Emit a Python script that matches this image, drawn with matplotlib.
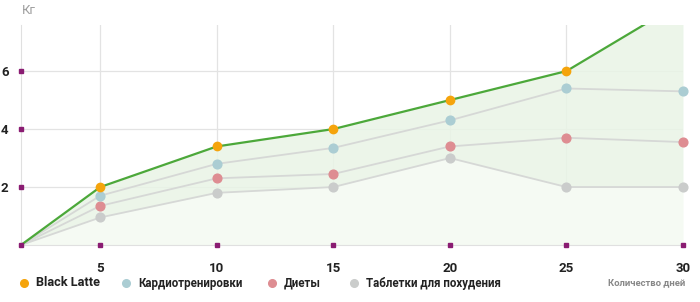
import matplotlib.pyplot as plt

plt.rcParams['font.family'] = ['Roboto', 'DejaVu Sans']

# data
days = [1.6, 5, 10, 15, 20, 25, 30]
xticks = [5, 10, 15, 20, 25, 30]
yticks = [2, 4, 6]
black_latte = [0, 2.0, 3.4, 4.0, 5.0, 6.0, 8.4]
cardio = [0, 1.7, 2.8, 3.35, 4.3, 5.4, 5.3]
diets = [0, 1.35, 2.3, 2.45, 3.4, 3.7, 3.55]
pills = [0, 0.95, 1.8, 2.0, 3.0, 2.0, 2.0]

labels = ['Black Latte', 'Кардиотренировки', 'Диеты', 'Таблетки для похудения']
colors = ['#f5a40c', '#abcdd3', '#de8d92', '#cacccb']

fig = plt.figure(figsize=(7, 3.02), dpi=100)
ax = fig.add_axes([21/700, 57/302, 662/700, 220/302])
ax.set_xlim(days[0], 30)
ax.set_ylim(0, 7.59)

# grid
for x in xticks:
    ax.axvline(x, color='#e3e3e3', lw=0.9, zorder=0)
for y in yticks:
    ax.axhline(y, color='#e3e3e3', lw=0.9, zorder=0)

# area fills
ax.fill_between(days, 0, pills, color='#f5faf3', lw=0, zorder=1)
ax.fill_between(days, pills, black_latte, color='#e9f4e6', alpha=0.85, lw=0, zorder=1)

for s, c in [(pills, colors[3]), (diets, colors[2]), (cardio, colors[1])]:
    ax.plot(days, s, color='#d6d8d6', lw=1.3, zorder=2)
    ax.plot(days[1:], s[1:], 'o', color=c, ms=6.3, zorder=3, clip_on=False)
ax.plot(days, black_latte, color='#4ca83a', lw=1.6, zorder=4)
ax.plot(days[1:6], black_latte[1:6], 'o', color=colors[0], ms=6, zorder=5)

for sp in ['top', 'right']:
    ax.spines[sp].set_visible(False)
ax.spines['left'].set_color('#e0e0e0')
ax.spines['bottom'].set_color('#e0e0e0')

ax.set_xticks(xticks)
ax.set_yticks(yticks)
ax.tick_params(length=0, labelsize=9.5, colors='#222222')
ax.tick_params(axis='x', pad=12)
ax.tick_params(axis='y', pad=9)
for t in ax.get_xticklabels() + ax.get_yticklabels():
    t.set_fontweight('bold')

# purple tick squares
ax.plot(xticks, [0]*len(xticks), 's', color='#8a1c72', ms=2.6, clip_on=False, zorder=6)
ax.plot([days[0]]*4, [0] + yticks, 's', color='#8a1c72', ms=2.6, clip_on=False, zorder=6)

fig.text(22/700, 1 - 11/302, 'Кг', color='#a0a0a0', fontsize=9.5, va='center', ha='left')
fig.text(685/700, 1 - 283/302, 'Количество дней', color='#888888', fontsize=6.8,
         fontweight='bold', va='center', ha='right')

# legend
leg_x = [24, 126, 272, 354]
leg_size = [9.2, 8.3, 8.3, 8.3]
for lx, lab, c, fs in zip(leg_x, labels, colors, leg_size):
    fig.lines.append(plt.Line2D([lx/700], [1 - 283/302], marker='o', color=c, ms=5.5,
                                transform=fig.transFigure, lw=0))
    fig.text((lx + 12)/700, 1 - 283/302, lab, fontsize=fs, color='#222222',
             va='center', ha='left', fontweight='bold')

fig.savefig('out.png', dpi=100)
